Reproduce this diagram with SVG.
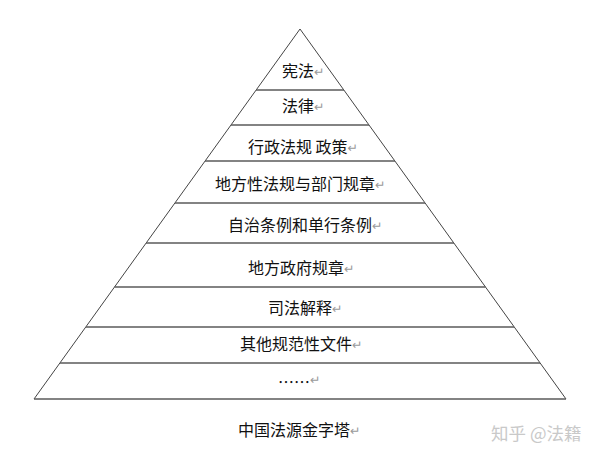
<svg xmlns="http://www.w3.org/2000/svg" width="600" height="459" viewBox="0 0 600 459">
<style>
.t{font-family:"Noto Sans CJK SC","Liberation Sans",sans-serif;font-size:16px;fill:#111}
.m{font-family:"DejaVu Sans",sans-serif;font-size:12.5px;fill:#9a9a9a}
.h{stroke:#5a5a5a;stroke-width:1.6;fill:none}
.s{stroke:#444;stroke-width:1;fill:none}
.wm{font-family:"Noto Sans CJK SC","Liberation Sans",sans-serif;font-size:17.5px;fill:#c9c9c9}
</style>
<rect width="600" height="459" fill="#fff"/>
<g id="pyramid">
<polyline class="s" points="34,399 300,29 566,399"/>
<line class="h" x1="34" y1="399" x2="566" y2="399"/>
<line class="h" x1="256" y1="90" x2="344" y2="90"/>
<line class="h" x1="231" y1="125" x2="369" y2="125"/>
<line class="h" x1="205" y1="161" x2="395" y2="161"/>
<line class="h" x1="175" y1="203" x2="425" y2="203"/>
<line class="h" x1="146" y1="243" x2="454" y2="243"/>
<line class="h" x1="114.5" y1="287" x2="485.5" y2="287"/>
<line class="h" x1="86" y1="327" x2="514" y2="327"/>
<line class="h" x1="60" y1="363" x2="540" y2="363"/>
</g>
<g id="tier1"><text class="t" x="282" y="77">宪法<tspan class="m" dy="-1">↵</tspan></text></g>
<g id="tier2"><text class="t" x="282" y="112">法律<tspan class="m" dy="-1">↵</tspan></text></g>
<g id="tier3"><text class="t" x="248" y="153">行政法规 政策<tspan class="m" dy="-1">↵</tspan></text></g>
<g id="tier4"><text class="t" x="215" y="190">地方性法规与部门规章<tspan class="m" dy="-1">↵</tspan></text></g>
<g id="tier5"><text class="t" x="228" y="231">自治条例和单行条例<tspan class="m" dy="-1">↵</tspan></text></g>
<g id="tier6"><text class="t" x="248" y="274">地方政府规章<tspan class="m" dy="-1">↵</tspan></text></g>
<g id="tier7"><text class="t" x="268" y="314">司法解释<tspan class="m" dy="-1">↵</tspan></text></g>
<g id="tier8"><text class="t" x="240" y="350">其他规范性文件<tspan class="m" dy="-1">↵</tspan></text></g>
<g id="tier9"><text class="t" x="278" y="388">……<tspan class="m" dy="-4">↵</tspan></text></g>
<g id="caption"><text class="t" x="238" y="436">中国法源金字塔<tspan class="m" dy="-1">↵</tspan></text></g>
<g id="watermark"><text class="wm" x="491" y="440">知乎 @法籍</text></g>
</svg>
